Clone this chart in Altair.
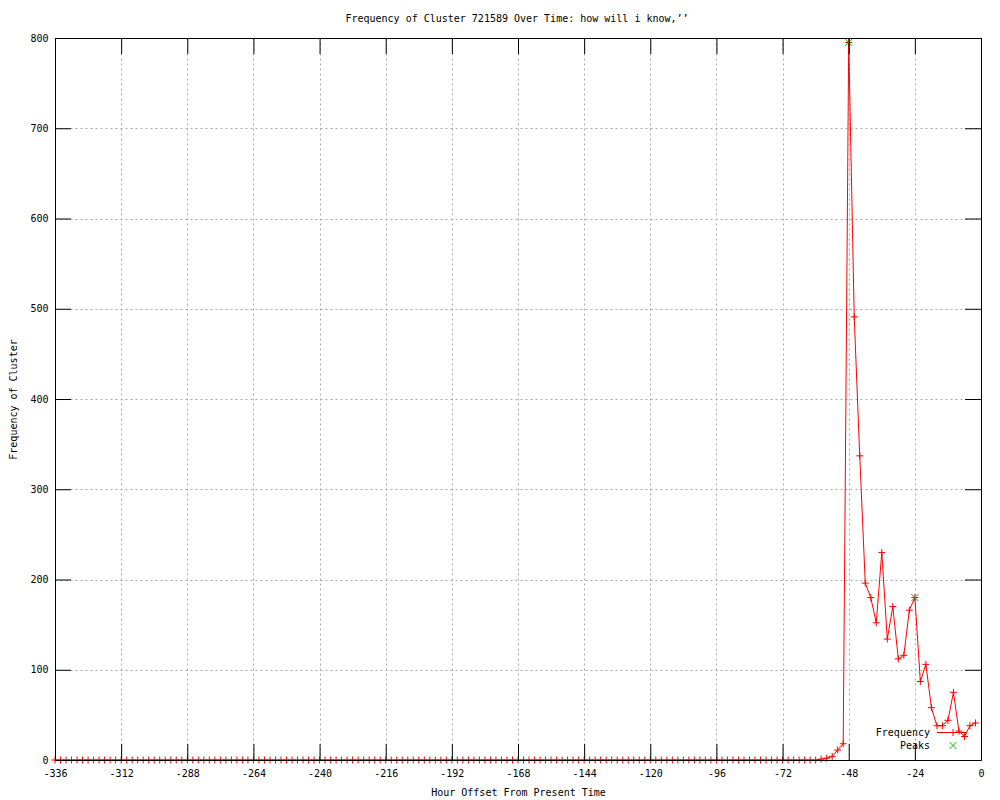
import altair as alt
import pandas as pd

# ---------------- data ----------------
hours = list(range(-336, 0, 2))  # one sample every 2 hours, -336 .. -2

early_values = [
    0, 0, 0, 0, 0, 0, 0, 0, 0, 0, 0, 0, 0, 0, 0, 0, 0, 0, 0, 0,
    0, 0, 0, 0, 0, 0, 0, 0, 0, 0, 0, 0, 0, 0, 0, 0, 0, 0, 0, 0,
    0, 0, 0, 0, 0, 0, 0, 0, 0, 0, 0, 0, 0, 0, 0, 0, 0, 0, 0, 0,
    0, 0, 0, 0, 0, 0, 0, 0, 0, 0, 0, 0, 0, 0, 0, 0, 0, 0, 0, 0,
    0, 0, 0, 0, 0, 0, 0, 0, 0, 0, 0, 0, 0, 0, 0, 0, 0, 0, 0, 0,
    0, 0, 0, 0, 0, 0, 0, 0, 0, 0, 0, 0, 0, 0, 0, 0, 0, 0, 0, 0,
    0, 0, 0, 0, 0, 0, 0, 0, 0, 0, 0, 0, 0, 0, 0, 0, 0, 0, 0,
]  # -336 .. -60
late_values = [
    1, 2, 4, 11, 18, 795, 491, 337, 196, 180, 152, 230, 134, 170, 112,
    116, 166, 180, 87, 106, 58, 38, 38, 44, 75, 32, 26, 38, 41,
]  # -58 .. -2
frequency = early_values + late_values

peak_hours = [-48, -24]
peak_values = [795, 180]

x_ticks = [-336, -312, -288, -264, -240, -216, -192, -168, -144, -120, -96, -72, -48, -24, 0]
y_ticks = [0, 100, 200, 300, 400, 500, 600, 700, 800]

title_text = "Frequency of Cluster 721589 Over Time: how will i know,’’"
x_title = "Hour Offset From Present Time"
y_title = "Frequency of Cluster"
legend_labels = ["Frequency", "Peaks"]

# ---------------- styling ----------------
W, H = 926, 722
FONT = "DejaVu Sans Mono"
FS = 10
TICK = 16
PLUS = "M-1,0L1,0M0,-1L0,1"
XSHAPE = "M-1,-1L1,1M-1,1L1,-1"
RED = "#ff0000"
GREEN = "#00c000"
GRID = "#a8a8a8"

df = pd.DataFrame({"hour": hours, "value": frequency})
peaks = pd.DataFrame({"hour": peak_hours, "value": peak_values})
xt = pd.DataFrame({"hour": x_ticks})
yt = pd.DataFrame({"value": y_ticks})
one = pd.DataFrame({"k": [0]})

xscale = alt.Scale(domain=[-336, 0], nice=False, zero=False)
yscale = alt.Scale(domain=[0, 800], nice=False)

x_axis = alt.Axis(
    values=x_ticks, grid=True, gridDash=[2, 3], gridColor=GRID, gridWidth=1,
    domain=False, ticks=False, tickSize=0, labelPadding=8, labelFont=FONT,
    labelFontSize=FS, labelColor="black", labelFlush=False, labelOverlap=False,
    labelExpr="datum.value + ''",
    title=x_title, titleFont=FONT, titleFontSize=FS, titleFontWeight="normal",
    titleColor="black", titleX=W / 2, titleY=32, titleAlign="center",
    titleBaseline="middle",
)
y_axis = alt.Axis(
    values=y_ticks, grid=True, gridDash=[2, 3], gridColor=GRID, gridWidth=1,
    domain=False, ticks=False, tickSize=0, labelPadding=7, labelFont=FONT,
    labelFontSize=FS, labelColor="black", labelFlush=False, labelOverlap=False,
    labelExpr="datum.value + ''",
    title=y_title, titleFont=FONT, titleFontSize=FS, titleFontWeight="normal",
    titleColor="black", titleX=-42, titleY=H / 2, titleAngle=270,
    titleAlign="center", titleBaseline="middle",
)

X = alt.X("hour:Q", scale=xscale, axis=x_axis)
Y = alt.Y("value:Q", scale=yscale, axis=y_axis)

line = alt.Chart(df).mark_line(color=RED, strokeWidth=1).encode(x=X, y=Y)
pts = alt.Chart(df).mark_point(
    shape=PLUS, size=49, filled=False, color=RED, strokeWidth=1, opacity=1
).encode(x=X, y=Y)
pk = alt.Chart(peaks).mark_point(
    shape=XSHAPE, size=49, filled=False, color=GREEN, strokeWidth=1, opacity=1
).encode(x=X, y=Y)

# inward ticks (bottom/top/left/right)
xt_bottom = alt.Chart(xt).mark_rule(color="black", strokeWidth=1, xOffset=0.5).encode(
    x=X, y=alt.value(H), y2=alt.value(H - TICK))
xt_top = alt.Chart(xt).mark_rule(color="black", strokeWidth=1, xOffset=0.5).encode(
    x=X, y=alt.value(0), y2=alt.value(TICK))
yt_left = alt.Chart(yt).mark_rule(color="black", strokeWidth=1, yOffset=0.5).encode(
    y=Y, x=alt.value(0), x2=alt.value(TICK))
yt_right = alt.Chart(yt).mark_rule(color="black", strokeWidth=1, yOffset=0.5).encode(
    y=Y, x=alt.value(W), x2=alt.value(W - TICK))

border = alt.Chart(one).mark_rect(
    fillOpacity=0, stroke="black", strokeWidth=1
).encode(x=alt.value(0.5), x2=alt.value(W + 0.5), y=alt.value(0.5), y2=alt.value(H + 0.5))

# legend (inside, bottom-right)
leg_txt1 = alt.Chart(one).mark_text(
    font=FONT, fontSize=FS, color="black", align="right", baseline="middle"
).encode(x=alt.value(875), y=alt.value(695), text=alt.value(legend_labels[0]))
leg_txt2 = alt.Chart(one).mark_text(
    font=FONT, fontSize=FS, color="black", align="right", baseline="middle"
).encode(x=alt.value(875), y=alt.value(708), text=alt.value(legend_labels[1]))
leg_line = alt.Chart(one).mark_rule(color=RED, strokeWidth=1).encode(
    x=alt.value(882), x2=alt.value(912), y=alt.value(694.5))
leg_plus = alt.Chart(one).mark_point(
    shape=PLUS, size=49, filled=False, color=RED, strokeWidth=1, opacity=1
).encode(x=alt.value(898), y=alt.value(694.5))
leg_x = alt.Chart(one).mark_point(
    shape=XSHAPE, size=49, filled=False, color=GREEN, strokeWidth=1, opacity=1
).encode(x=alt.value(898), y=alt.value(707.5))

title = alt.Chart(one).mark_text(
    font=FONT, fontSize=FS, color="black", align="center", baseline="middle"
).encode(x=alt.value(462), y=alt.value(-19), text=alt.value(title_text))

chart = alt.layer(
    line, pts, pk, xt_bottom, xt_top, yt_left, yt_right, border,
    leg_txt1, leg_txt2, leg_line, leg_plus, leg_x, title,
).properties(
    width=W, height=H,
    autosize=alt.AutoSizeParams(type="none"),
    padding={"left": 47, "top": 30, "right": 11, "bottom": 40},
    background="white",
).configure_view(stroke=None)

chart.save("out.html", embed_options={"renderer": "svg", "actions": False})
